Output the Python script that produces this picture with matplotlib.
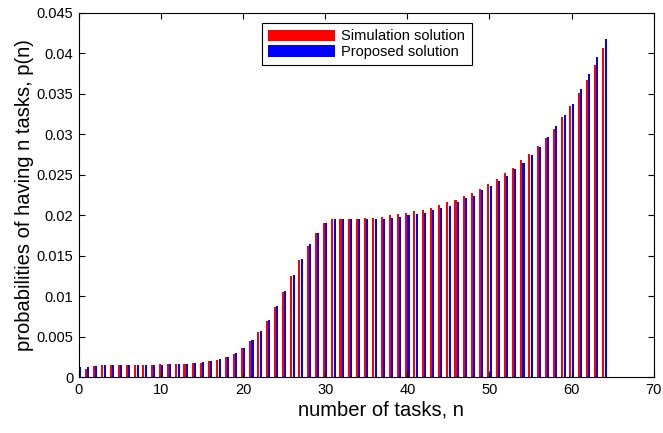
import numpy as np
import matplotlib
matplotlib.use("Agg")
import matplotlib.pyplot as plt

plt.rcParams['font.family'] = ['Liberation Sans', 'DejaVu Sans']

# number of tasks n = 0..64
n_tasks = np.arange(65)

# simulation solution (red)
sim = [0.0005, 0.0010, 0.0014, 0.0015, 0.0015, 0.0015, 0.0015, 0.0015, 0.0015, 0.0015,
       0.0016, 0.0016, 0.0016, 0.0016, 0.0017, 0.0017, 0.0020, 0.0021, 0.0025, 0.0029,
       0.0036, 0.0045, 0.0056, 0.0069, 0.0087, 0.0105, 0.0125, 0.0145, 0.0162, 0.0178,
       0.0190, 0.0195, 0.0195, 0.0195, 0.0196, 0.0197, 0.0197, 0.0198, 0.0200, 0.0201,
       0.0203, 0.0205, 0.0207, 0.0209, 0.0213, 0.0216, 0.0219, 0.0224, 0.0228, 0.0233,
       0.0239, 0.0245, 0.0252, 0.0259, 0.0268, 0.0276, 0.0286, 0.0296, 0.0307, 0.0321,
       0.0335, 0.0351, 0.0367, 0.0386, 0.0407]

# proposed solution (blue)
prop = [0.0012, 0.0013, 0.0014, 0.0015, 0.0015, 0.0015, 0.0015, 0.0015, 0.0015, 0.0015,
        0.0015, 0.0016, 0.0016, 0.0016, 0.0017, 0.0019, 0.0020, 0.0022, 0.0025, 0.0030,
        0.0036, 0.0046, 0.0057, 0.0071, 0.0088, 0.0107, 0.0126, 0.0146, 0.0164, 0.0178,
        0.0190, 0.0195, 0.0195, 0.0195, 0.0195, 0.0195, 0.0195, 0.0196, 0.0197, 0.0198,
        0.0200, 0.0202, 0.0203, 0.0206, 0.0209, 0.0212, 0.0216, 0.0221, 0.0224, 0.0231,
        0.0236, 0.0242, 0.0249, 0.0257, 0.0265, 0.0275, 0.0285, 0.0297, 0.0310, 0.0324,
        0.0338, 0.0356, 0.0374, 0.0395, 0.0418]

xticks = [0, 10, 20, 30, 40, 50, 60, 70]
yticks = [0, 0.005, 0.01, 0.015, 0.02, 0.025, 0.03, 0.035, 0.04, 0.045]
ytick_labels = ['0', '0.005', '0.01', '0.015', '0.02', '0.025', '0.03', '0.035', '0.04', '0.045']

fig = plt.figure(figsize=(6.63, 4.33), dpi=100)
ax = fig.add_axes([0.119, 0.129, 0.867, 0.841])

# matlab-like grouped bars
w = 0.25
off = 0.14
ax.bar(n_tasks - off, sim, width=w, color='#ff0000', linewidth=0, antialiased=False,
       label='Simulation solution')
ax.bar(n_tasks + off, prop, width=w, color='#0000ff', linewidth=0, antialiased=False,
       label='Proposed solution')

ax.set_xlim(0, 70)
ax.set_ylim(0, 0.045)
ax.set_xticks(xticks)
ax.set_yticks(yticks)
ax.set_yticklabels(ytick_labels)
ax.tick_params(direction='in', length=4, width=0.8, labelsize=10.5, top=True, right=True, pad=4)
for s in ax.spines.values():
    s.set_linewidth(0.8)

ax.set_xlabel('number of tasks, n', fontsize=14.5)
ax.xaxis.set_label_coords(0.525, -0.065)
ax.set_ylabel('probabilities of having n tasks, p(n)', fontsize=14.5, labelpad=2)

leg = ax.legend(loc='upper left', bbox_to_anchor=(0.318, 0.973), fontsize=10.5,
                handlelength=4.6, handleheight=0.85, fancybox=False, edgecolor='black',
                framealpha=1, borderpad=0.45, labelspacing=0.1, handletextpad=0.4,
                borderaxespad=0)
leg.get_frame().set_linewidth(0.8)

fig.savefig('out.png', dpi=100)
